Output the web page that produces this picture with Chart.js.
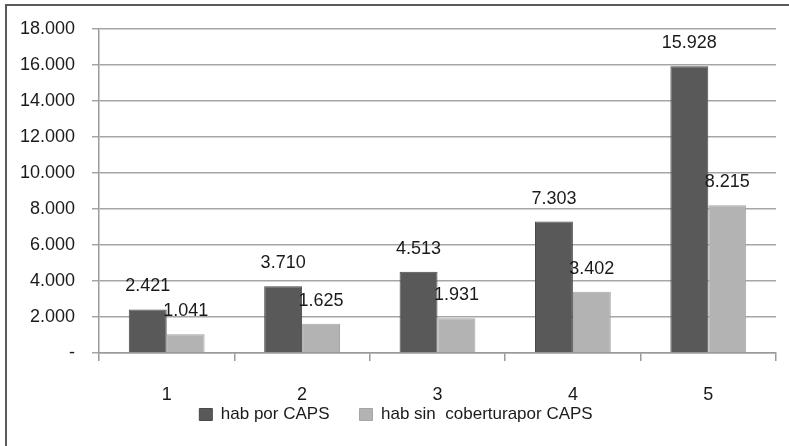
<!DOCTYPE html>
<html>
<head>
<meta charset="utf-8">
<script src="https://cdn.jsdelivr.net/npm/chart.js@4/dist/chart.umd.min.js"></script>
<style>
html,body{margin:0;padding:0;background:#fff;}
#wrap{position:absolute;left:0;top:0;width:789px;height:446px;}
#frame{position:absolute;left:5px;top:4px;width:790px;height:450px;border-left:2px solid #5a5a5a;border-top:2px solid #5a5a5a;pointer-events:none;}
canvas{display:block;}
</style>
</head>
<body>
<div id="wrap"><canvas id="c" width="789" height="446"></canvas><div id="frame"></div></div>
<script>
const categories = ['1', '2', '3', '4', '5'];
const habPorCaps = [2421, 3710, 4513, 7303, 15928];
const habSinCobertura = [1041, 1625, 1931, 3402, 8215];
const seriesNames = ['hab por CAPS', 'hab sin  coberturapor CAPS'];
const yTicks = [0, 2000, 4000, 6000, 8000, 10000, 12000, 14000, 16000, 18000];

function fmt(v){
  if (v === 0) return '-';
  const s = String(Math.round(v));
  return s.replace(/\B(?=(\d{3})+(?!\d))/g, '.');
}

const FONT = '"Liberation Sans", Arial, sans-serif';

const labelPlugin = {
  id: 'barLabels',
  afterDatasetsDraw(chart){
    const ctx = chart.ctx;
    ctx.save();
    ctx.font = '18px ' + FONT;
    ctx.fillStyle = '#1a1a1a';
    ctx.textAlign = 'center';
    ctx.textBaseline = 'middle';
    chart.data.datasets.forEach((ds, i) => {
      const meta = chart.getDatasetMeta(i);
      meta.data.forEach((bar, j) => {
        ctx.fillText(fmt(ds.data[j]), bar.x, bar.y - 23);
      });
    });
    ctx.restore();
  }
};

new Chart(document.getElementById('c'), {
  type: 'bar',
  data: {
    labels: categories,
    datasets: [
      {label: seriesNames[0], data: habPorCaps, backgroundColor: '#595959', borderColor: '#4a4a4a', borderWidth: 1},
      {label: seriesNames[1], data: habSinCobertura, backgroundColor: '#b3b3b3', borderColor: '#a5a5a5', borderWidth: 1}
    ]
  },
  options: {
    responsive: false,
    animation: false,
    devicePixelRatio: 1,
    layout: {padding: {left: 16, right: 13, top: 29, bottom: 13}},
    datasets: {bar: {barPercentage: 1, categoryPercentage: 0.56}},
    plugins: {
      legend: {
        position: 'bottom',
        title: {display: true, text: '', font: {size: 1}, padding: {top: -31.2, bottom: 0}},
        labels: {
          font: {family: FONT, size: 17},
          color: '#1a1a1a',
          boxWidth: 13,
          boxHeight: 12,
          padding: 30
        }
      },
      tooltip: {enabled: false}
    },
    scales: {
      x: {
        offset: true,
        grid: {display: true, offset: true, drawOnChartArea: false, color: '#9a9a9a', tickLength: 8, lineWidth: 1.5},
        border: {color: '#9a9a9a', width: 1.5},
        ticks: {font: {family: FONT, size: 18}, color: '#1a1a1a', padding: 23},
        afterFit(s){ s.height = 53; }
      },
      y: {
        min: 0, max: 18000,
        afterBuildTicks(s){ s.ticks = yTicks.map(v => ({value: v})); },
        grid: {color: '#a6a6a6', lineWidth: 1.5, tickLength: 7},
        border: {color: '#9a9a9a', width: 1.5},
        ticks: {font: {family: FONT, size: 18}, color: '#1a1a1a', padding: 17, callback: v => fmt(v)},
        afterFit(s){ s.width = 83; }
      }
    }
  },
  plugins: [labelPlugin]
});
</script>
</body>
</html>
